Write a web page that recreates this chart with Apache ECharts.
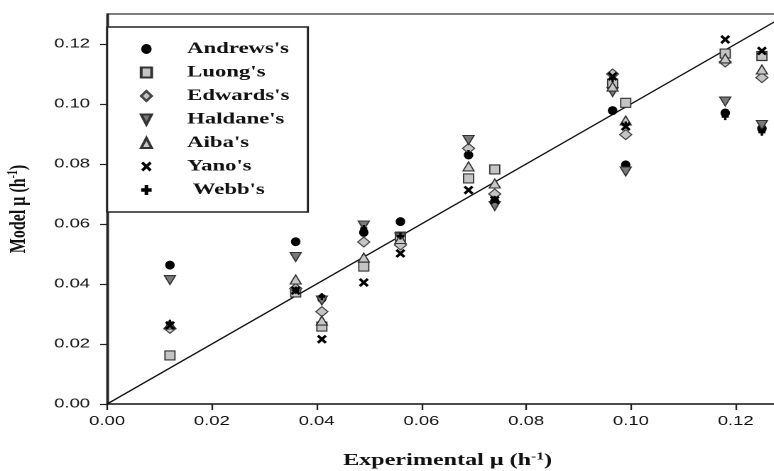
<!DOCTYPE html>
<html>
<head>
<meta charset="utf-8">
<script src="https://cdn.jsdelivr.net/npm/echarts@6/dist/echarts.min.js"></script>
<style>
  html, body { margin: 0; padding: 0; background: #fff; overflow: hidden; }
  /* the figure is laid out narrow and widened horizontally, like the printed plot */
  #chart { width: 545px; height: 471px; transform: scaleX(1.42); transform-origin: 0 0; }
</style>
</head>
<body>
<div id="chart"></div>
<script>
const STRETCH = 1.42;

// experimental specific growth rate (h^-1)
const experimental = [0.012, 0.036, 0.041, 0.049, 0.056, 0.069, 0.074, 0.0965, 0.099, 0.118, 0.125];

// model-predicted growth rates (h^-1), one value per experimental point
const andrews = [0.0463, 0.0541, 0.0352, 0.0572, 0.0608, 0.0830, 0.0675, 0.0978, 0.0797, 0.0970, 0.0918];
const luong   = [0.0162, 0.0372, 0.0258, 0.0458, 0.0558, 0.0752, 0.0782, 0.1068, 0.1004, 0.1168, 0.1160];
const edwards = [0.0252, 0.0385, 0.0308, 0.0540, 0.0530, 0.0852, 0.0700, 0.1100, 0.0898, 0.1140, 0.1088];
const haldane = [0.0413, 0.0490, 0.0345, 0.0595, 0.0555, 0.0880, 0.0660, 0.1040, 0.0775, 0.1008, 0.0930];
const aiba    = [0.0265, 0.0415, 0.0278, 0.0488, 0.0550, 0.0792, 0.0735, 0.1058, 0.0945, 0.1152, 0.1115];
const yano    = [0.0262, 0.0378, 0.0216, 0.0405, 0.0502, 0.0713, 0.0680, 0.1092, 0.0925, 0.1215, 0.1177];
const webb    = [0.0268, 0.0380, 0.0358, 0.0585, 0.0560, 0.0835, 0.0682, 0.1085, 0.0930, 0.0958, 0.0906];

// 1:1 reference line
const parityLine = [0, 0.13];

const xTicks = [0, 0.02, 0.04, 0.06, 0.08, 0.10, 0.12];
const yTicks = [0, 0.02, 0.04, 0.06, 0.08, 0.10, 0.12];

const SERIF = 'Liberation Serif, Times New Roman, serif';
const SANS = 'Liberation Sans, Arial, sans-serif';

// marker shapes as filled outlines (they stretch to the given box)
const DOT = 'path://M5,0A5,5 0 1 1 5,10A5,5 0 1 1 5,0Z';
const CROSS = 'path://M0,2L2,0L5,3L8,0L10,2L7,5L10,8L8,10L5,7L2,10L0,8L3,5Z';
const PLUS = 'path://M3.3,0H6.7V3.3H10V6.7H6.7V10H3.3V6.7H0V3.3H3.3Z';
const TRI_DOWN = 'path://M0,0L10,0L5,8.5Z';

// widths are given pre-widening so markers keep their printed proportions
const sz = (w, h) => [w / STRETCH, h];

function pairs(ys) { return experimental.map((x, i) => [x, ys[i]]); }

function scatter(name, values, symbol, size, fill, border) {
  return {
    name: name,
    type: 'scatter',
    data: pairs(values),
    symbol: symbol,
    symbolSize: size,
    symbolKeepAspect: false,
    itemStyle: {
      color: fill,
      borderColor: border || fill,
      borderWidth: border ? 1 : 0,
      opacity: 1
    },
    z: 3
  };
}

function titleRich(size) {
  return {
    base: { fontFamily: SERIF, fontWeight: 'bold', fontSize: size, color: '#111', lineHeight: size + 2 },
    sup: { fontFamily: SERIF, fontWeight: 'bold', fontSize: Math.round(size * 0.65), color: '#111',
           verticalAlign: 'top', lineHeight: size + 2, padding: [0, 0, 8, 0] }
  };
}

const chart = echarts.init(document.getElementById('chart'), null, { devicePixelRatio: 2 });

const seriesDefs = [
  ["Andrews's", andrews, DOT, sz(9.5, 9), '#000', null],
  ["Luong's", luong, 'rect', sz(10, 9), '#c4c4c4', '#333'],
  ["Edwards's", edwards, 'diamond', sz(12, 10), '#c4c4c4', '#444'],
  ["Haldane's", haldane, TRI_DOWN, sz(11, 9), '#7a7a7a', '#333'],
  ["Aiba's", aiba, 'triangle', sz(11, 9), '#c8c8c8', '#333'],
  ["Yano's", yano, CROSS, sz(10, 9), '#000', null],
  [" Webb's", webb, PLUS, sz(7, 7), '#000', null]
];

chart.setOption({
  animation: false,
  backgroundColor: '#fff',
  grid: {
    left: 75.4, right: -10, top: 14, bottom: 67,
    outerBoundsMode: 'none',
    containLabel: false,
    show: true, borderColor: '#333', borderWidth: 1.2, backgroundColor: 'transparent'
  },
  legend: {
    orient: 'vertical',
    left: 75.4, top: 27,
    padding: [14, 13, 14, 23],
    itemGap: 7.5,
    itemWidth: 10.5 / STRETCH,
    itemHeight: 10,
    symbolKeepAspect: false,
    backgroundColor: '#fff',
    borderColor: '#222',
    borderWidth: 1.5,
    borderRadius: 0,
    textStyle: {
      fontFamily: SERIF, fontWeight: 'bold', fontSize: 16, color: '#111',
      lineHeight: 16, padding: [0, 0, 0, 20]
    },
    data: seriesDefs.map(d => ({ name: d[0], icon: d[2] }))
  },
  xAxis: {
    type: 'value', min: 0, max: 0.13, interval: 0.02,
    name: '{base|Experimental μ (h}{sup|-1}{base|)}',
    nameLocation: 'middle', nameGap: 47,
    nameTextStyle: { rich: titleRich(17) },
    axisLine: { show: true, onZero: false, lineStyle: { color: '#222', width: 1.5 } },
    axisTick: { show: true, inside: false, length: 6, customValues: xTicks, lineStyle: { color: '#222', width: 1.2 } },
    axisLabel: {
      customValues: xTicks, margin: 11, fontFamily: SANS, fontSize: 13, color: '#111',
      formatter: v => v.toFixed(2)
    },
    splitLine: { show: false }
  },
  yAxis: {
    type: 'value', min: 0, max: 0.13, interval: 0.02,
    name: '{base|Model μ (h}{sup|-1}{base|)}',
    nameLocation: 'middle', nameGap: 53, nameRotate: 90,
    nameTextStyle: { rich: titleRich(16) },
    axisLine: { show: true, onZero: false, lineStyle: { color: '#222', width: 1.5 } },
    axisTick: { show: true, inside: false, length: 7 / STRETCH, customValues: yTicks, lineStyle: { color: '#222', width: 1.2 } },
    axisLabel: {
      customValues: yTicks, margin: 12, fontFamily: SANS, fontSize: 13, color: '#111',
      formatter: v => v.toFixed(2)
    },
    splitLine: { show: false }
  },
  series: [
    {
      name: 'parity',
      type: 'line',
      data: parityLine.map(v => [v, v]),
      symbol: 'none',
      lineStyle: { color: '#111', width: 1.2 },
      silent: true,
      z: 2
    }
  ].concat(seriesDefs.map(d => scatter(d[0], d[1], d[2], d[3], d[4], d[5])))
});
</script>
</body>
</html>
